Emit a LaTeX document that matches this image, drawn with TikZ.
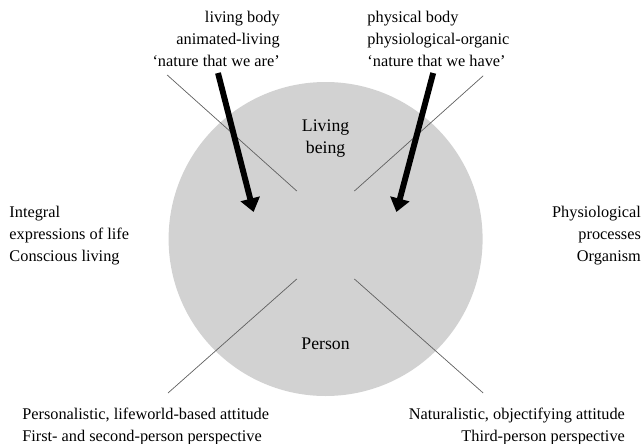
\documentclass[tikz,border=0pt]{standalone}
\usepackage{fontspec}
\setmainfont{Liberation Serif}
\usetikzlibrary{arrows.meta}

\begin{document}
\begin{tikzpicture}[
    divider/.style={gray!75!black,line width=.5pt},
    bigarrow/.style={line width=4.2pt,-{Triangle[length=3.4mm,width=4.8mm]}},
    lbl/.style={inner sep=0pt,font=\fontsize{11.6}{15.3}\selectfont},
    inner/.style={inner sep=0pt,font=\fontsize{12.6}{15.6}\selectfont}]
  \useasboundingbox (-8.14,-5.1) rectangle (7.96,5.975);
  % the disc
  \fill[gray!35] (0,0) circle (3.925);
  \node[inner,align=center,anchor=base] (being) at (0,2.15) {Living\\being};
  \node[inner,anchor=base] (person) at (0,-2.75) {Person};
  % four dividing strokes
  \coordinate (tlin) at (-.72,1.2);  \coordinate (tlout) at (-3.96,4.1);
  \coordinate (trin) at (.72,1.2);   \coordinate (trout) at (3.94,4.08);
  \coordinate (blin) at (-.72,-1.0); \coordinate (blout) at (-3.94,-3.85);
  \coordinate (brin) at (.72,-1.0);  \coordinate (brout) at (3.94,-3.85);
  \draw[divider] (tlin) -- (tlout);
  \draw[divider] (trin) -- (trout);
  \draw[divider] (blin) -- (blout);
  \draw[divider] (brin) -- (brout);
  % top labels and arrows
  \node[lbl,align=right,anchor=base east] (lived) at (-1.14,4.325)
    {living body\\animated-living\\`nature that we are'};
  \node[lbl,align=left,anchor=base west] (phys) at (1.04,4.325)
    {physical body\\physiological-organic\\`nature that we have'};
  \coordinate (ltail) at (-2.69,4.15); \coordinate (ltip) at (-1.8,.675);
  \coordinate (rtail) at (2.69,4.15);  \coordinate (rtip) at (1.77,.675);
  \draw[bigarrow] (ltail) -- (ltip);
  \draw[bigarrow] (rtail) -- (rtip);
  % side labels
  \node[lbl,align=left,anchor=base west] (integral) at (-7.91,-.55)
    {Integral\\expressions of life\\Conscious living};
  \node[lbl,align=right,anchor=base east] (organism) at (7.89,-.55)
    {Physiological\\processes\\Organism};
  % bottom labels
  \node[lbl,align=left,anchor=base west] (personal) at (-7.59,-5.06)
    {Personalistic, lifeworld-based attitude\\First- and second-person perspective};
  \node[lbl,align=right,anchor=base east] (natural) at (7.49,-5.06)
    {Naturalistic, objectifying attitude\\Third-person perspective};
\end{tikzpicture}
\end{document}
